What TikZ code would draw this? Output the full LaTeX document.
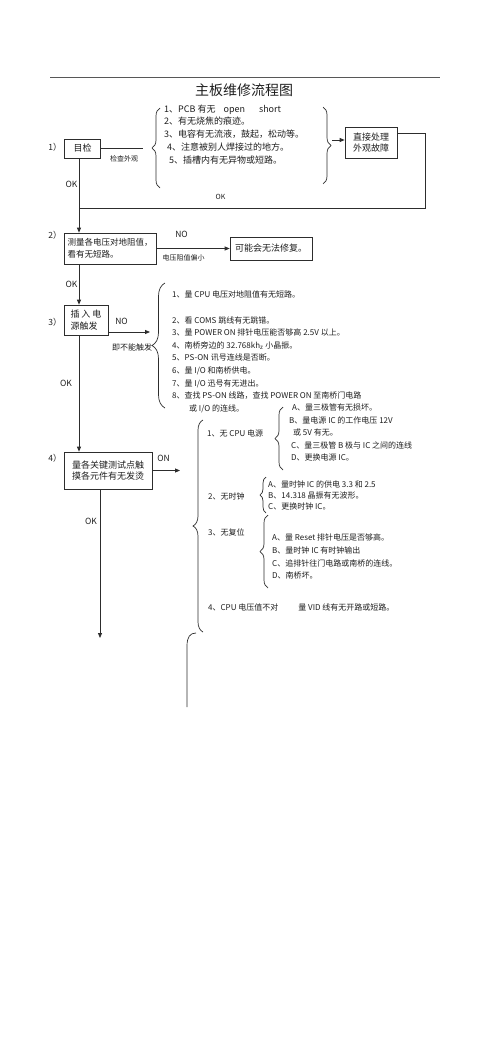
\documentclass[tikz,border=0pt]{standalone}
\usepackage{fontspec}
\setmainfont{Noto Sans CJK SC}
\usepackage{tikz}
\usetikzlibrary{arrows.meta, positioning, calc, decorations.pathreplacing}
\definecolor{myline}{RGB}{45,45,45}
\definecolor{mytext}{RGB}{30,30,30}
\tikzset{
  box/.style={rectangle, draw=myline, line width=0.7pt, inner sep=2pt,
    align=left, text=mytext, font=\fontsize{9}{11.7}\selectfont},
  arrow/.style={-{Triangle[length=5pt,width=4pt]}, line width=0.8pt, color=myline},
  line/.style={line width=0.8pt, color=myline},
  curly/.style={decorate, decoration={brace, amplitude=#1}, line width=0.7pt, color=myline},
  lbl/.style={inner sep=0pt, text=mytext, font=\fontsize{8.5}{10}\selectfont},
  small/.style={inner sep=0pt, text=mytext, font=\fontsize{7}{9}\selectfont},
  list/.style={align=left, inner sep=0pt, anchor=north west, text=mytext}
}

\begin{document}
\begin{tikzpicture}[x=1pt, y=-1pt]
  \useasboundingbox (0,0) rectangle (500,1060);
  \draw[line, color=myline!80] (50,77) -- (440,77);
  \node[text=mytext, font=\fontsize{14}{16}\selectfont] (title) at (244,90) {主板维修流程图};

  % 1) visual check
  \coordinate (col) at (79,0);
  \node[lbl] (n1) at (55,147) {1）};
  \node[box, minimum width=36pt, minimum height=19pt] (chk) at (82.5,148.5) {目检};
  \coordinate (c1) at (143,148.5);
  \draw[line] (chk.east) -- (c1);
  \node[small] (look) at (124,159) {检查外观};
  \draw[curly=8] (160,188) -- (160,108);
  \node[list, font=\fontsize{9}{12.7}\selectfont] (lst1) at (164,104.5)
    {1、PCB 有无\hspace{8pt}open\hspace{14pt}short\\2、有无烧焦的痕迹。\\3、电容有无流液，鼓起，松动等。\\\hspace*{3pt}4、注意被别人焊接过的地方。\\\hspace*{5pt}5、插槽内有无异物或短路。};
  \draw[curly=8] (323,107) -- (323,184);
  \node[box, align=center, minimum width=52pt, minimum height=31pt] (fix) at (371,142.5) {直接处理\\外观故障};
  \coordinate (r1) at (332,140);
  \draw[arrow] (r1) -- (r1 -| fix.west);
  \coordinate (loop) at (425,208);
  \draw[line] (fix.east |- 0,133) -| (loop) -- (col |- loop);
  \node[small] (ok0) at (220.5,197) {OK};
  \node[lbl] (ok1) at (71.5,184) {OK};

  % 2) resistance to ground
  \node[lbl] (n2) at (55,235) {2）};
  \node[box, font=\fontsize{8.5}{11.7}\selectfont, minimum width=92pt, minimum height=31pt] (msr) at (110,248.5) {测量各电压对地阻值，\\看有无短路。};
  \draw[arrow] (chk.south -| col) -- (msr.north -| col);
  \node[box, minimum width=82pt, minimum height=23pt] (fail) at (271,248.5) {可能会无法修复。};
  \draw[arrow] (msr.east) -- (fail.west);
  \node[lbl] (no1) at (181.5,234) {NO};
  \node[small] (low) at (183.5,258) {电压阻值偏小};
  \node[lbl] (ok2) at (71.5,284) {OK};

  % 3) power on
  \node[lbl] (n3) at (55,322) {3）};
  \node[box, minimum width=44pt, minimum height=30pt] (trg) at (86,320) {插\hspace{2pt}入\hspace{2pt}电\\源触发};
  \draw[arrow] (msr.south -| col) -- (trg.north -| col);
  \coordinate (t3) at (150,332);
  \draw[arrow] (trg.east |- t3) -- (t3);
  \node[lbl] (no2) at (121.5,321) {NO};
  \node[lbl, font=\fontsize{8}{10}\selectfont] (cant) at (132,347) {即不能触发};
  \draw[curly=13] (165,408) -- (165,283);
  \node[list, font=\fontsize{8}{12.6}\selectfont] (lst3) at (172,291)
    {1、量 CPU 电压对地阻值有无短路。\\[12.6pt]2、看 COMS 跳线有无跳错。\\3、量 POWER ON 排针电压能否够高 2.5V 以上。\\4、南桥旁边的 32.768kh\textsubscript{z} 小晶振。\\5、PS-ON 讯号连线是否断。\\6、量 I/O 和南桥供电。\\7、量 I/O 迅号有无进出。\\8、查找 PS-ON 线路，查找 POWER ON 至南桥门电路\\\hspace*{17pt}或 I/O 的连线。};
  \node[lbl] (ok3) at (66,383) {OK};

  % 4) hot parts
  \coordinate (col2) at (100,0);
  \node[lbl] (n4) at (55,458) {4）};
  \node[box, minimum width=88pt, minimum height=37pt] (key) at (108,470.5) {量各关键测试点触\\摸各元件有无发烫};
  \draw[arrow] (trg.south -| col) -- (key.north -| col);
  \coordinate (k4) at (180,470.5);
  \draw[arrow] (key.east) -- (k4);
  \node[lbl] (on) at (163.5,458) {ON};
  \coordinate (endpt) at (100,638);
  \draw[arrow] (key.south -| col2) -- (endpt);
  \node[lbl] (ok4) at (91,521) {OK};

  \draw[curly=10] (203,632) -- (203,420);
  \node[lbl, font=\fontsize{8}{10}\selectfont, anchor=west] (s1) at (207,433) {1、无 CPU 电源};
  \draw[curly=8] (283,470) -- (283,407);
  \node[list, font=\fontsize{8}{12.5}\selectfont] (lsa) at (289,404)
    {\hspace*{3pt}A、量三极管有无损坏。\\B、量电源 IC 的工作电压 12V\\\hspace*{4pt}或 5V 有无。\\\hspace*{2pt}C、量三极管 B 极与 IC 之间的连线\\\hspace*{2pt}D、更换电源 IC。};
  \node[lbl, font=\fontsize{8}{10}\selectfont, anchor=west] (s2) at (208,496) {2、无时钟};
  \draw[curly=6] (266,513) -- (266,477);
  \node[list, font=\fontsize{8}{11}\selectfont] (lsb) at (268,481)
    {A、量时钟 IC 的供电 3.3 和 2.5\\B、14.318 晶振有无波形。\\C、更换时钟 IC。};
  \node[lbl, font=\fontsize{8}{10}\selectfont, anchor=west] (s3) at (208,532) {3、无复位};
  \draw[curly=8] (268,588) -- (268,515);
  \node[list, font=\fontsize{8}{12.6}\selectfont] (lsc) at (272,534)
    {A、量 Reset 排针电压是否够高。\\B、量时钟 IC 有时钟输出\\C、追排针往门电路或南桥的连线。\\D、南桥坏。};
  \node[lbl, font=\fontsize{8}{10}\selectfont, anchor=west] (s4) at (208,607) {4、CPU 电压值不对\hspace{20pt}量 VID 线有无开路或短路。};
  \draw[line, line width=0.7pt] (196,633) .. controls (190,633) and (187,637) .. (187,646) -- (187,707);
\end{tikzpicture}
\end{document}
